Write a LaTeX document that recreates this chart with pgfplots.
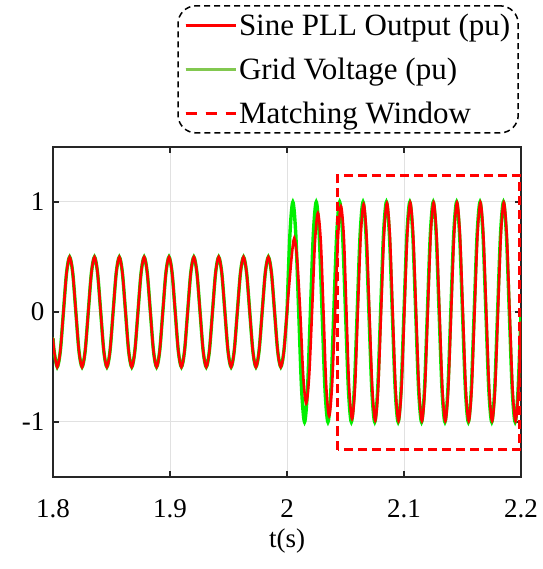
\documentclass[border=0pt]{standalone}
\usepackage{fontspec}
\setmainfont{Liberation Serif}
\usepackage{pgfplots}
\pgfplotsset{compat=1.18}
\usepackage{pgfplotstable}
\definecolor{axgray}{RGB}{38,38,38}
\definecolor{gridgray}{RGB}{225,225,225}
\definecolor{pllred}{RGB}{255,0,0}
\definecolor{gridgreen}{RGB}{0,240,0}
\definecolor{leggreen}{RGB}{130,200,80}

% before the step (shared by both series)
\pgfplotstableread{
t v
1.800000 -0.241
1.800957 -0.354
1.803611 -0.5
1.806265 -0.354
1.808919 0
1.811573 0.354
1.814227 0.5
1.816880 0.354
1.819534 0
1.822188 -0.354
1.824842 -0.5
1.827496 -0.354
1.830150 0
1.832805 0.354
1.835459 0.5
1.838112 0.354
1.840766 0
1.843420 -0.354
1.846074 -0.5
1.848728 -0.354
1.851382 0
1.854036 0.354
1.856690 0.5
1.859343 0.354
1.861997 0
1.864651 -0.354
1.867305 -0.5
1.869959 -0.354
1.872613 0
1.875267 0.354
1.877921 0.5
1.880574 0.354
1.883228 0
1.885882 -0.354
1.888536 -0.5
1.891190 -0.354
1.893844 0
1.896498 0.354
1.899152 0.5
1.901805 0.354
1.904459 0
1.907113 -0.354
1.909767 -0.5
1.912421 -0.354
1.915075 0
1.917729 0.354
1.920383 0.5
1.923036 0.354
1.925690 0
1.928344 -0.354
1.930998 -0.5
1.933652 -0.354
1.936306 0
1.938961 0.354
1.941615 0.5
1.944268 0.354
1.946922 0
1.949576 -0.354
1.952230 -0.5
1.954884 -0.354
1.957538 0
1.960192 0.354
1.962846 0.5
1.965499 0.354
1.968153 0
1.970807 -0.354
1.973461 -0.5
1.976115 -0.354
1.978769 0
1.981423 0.354
1.984077 0.5
1.986730 0.354
1.989384 0
1.992038 -0.354
1.994692 -0.5
1.997346 -0.354
2.000000 0
}\pre

% grid voltage after the step
\pgfplotstableread{
t v
2.0000 0
2.0025 0.707
2.0050 1
2.0075 0.707
2.0100 0
2.0125 -0.707
2.0150 -1
2.0175 -0.707
2.0200 0
2.0225 0.707
2.0250 1
2.0275 0.707
2.0300 0
2.0325 -0.707
2.0350 -1
2.0375 -0.707
2.0400 0
2.0425 0.707
2.0450 1
2.0475 0.707
2.0500 0
2.0525 -0.707
2.0550 -1
2.0575 -0.707
2.0600 0
2.0625 0.707
2.0650 1
2.0675 0.707
2.0700 0
2.0725 -0.707
2.0750 -1
2.0775 -0.707
2.0800 0
2.0825 0.707
2.0850 1
2.0875 0.707
2.0900 0
2.0925 -0.707
2.0950 -1
2.0975 -0.707
2.1000 0
2.1025 0.707
2.1050 1
2.1075 0.707
2.1100 0
2.1125 -0.707
2.1150 -1
2.1175 -0.707
2.1200 0
2.1225 0.707
2.1250 1
2.1275 0.707
2.1300 0
2.1325 -0.707
2.1350 -1
2.1375 -0.707
2.1400 0
2.1425 0.707
2.1450 1
2.1475 0.707
2.1500 0
2.1525 -0.707
2.1550 -1
2.1575 -0.707
2.1600 0
2.1625 0.707
2.1650 1
2.1675 0.707
2.1700 0
2.1725 -0.707
2.1750 -1
2.1775 -0.707
2.1800 0
2.1825 0.707
2.1850 1
2.1875 0.707
2.1900 0
2.1925 -0.707
2.1950 -1
2.1975 -0.707
2.2000 0
}\gpost

% PLL output after the step
\pgfplotstableread{
t v
2.0000 0
2.0037 0.474
2.0062 0.67
2.0087 0.474
2.0113 0
2.0139 -0.587
2.0164 -0.83
2.0189 -0.587
2.0214 0
2.0239 0.636
2.0264 0.90
2.0289 0.636
2.0312 0
2.0335 -0.668
2.0360 -0.945
2.0385 -0.668
2.0411 0
2.0436 0.679
2.0461 0.96
2.0486 0.679
2.0508 0
2.0531 -0.686
2.0556 -0.97
2.0581 -0.686
2.0605 0
2.0630 0.693
2.0655 0.98
2.0680 0.693
2.0704 0
2.0729 -0.696
2.0754 -0.985
2.0779 -0.696
2.0804 0
2.0829 0.700
2.0854 0.99
2.0879 0.700
2.0903 0
2.0928 -0.700
2.0953 -0.99
2.0978 -0.700
2.1003 0
2.1028 0.703
2.1053 0.995
2.1078 0.703
2.1103 0
2.1128 -0.703
2.1153 -0.99
2.1178 -0.703
2.1203 0
2.1228 0.703
2.1253 0.995
2.1278 0.703
2.1303 0
2.1328 -0.703
2.1353 -0.99
2.1378 -0.703
2.1403 0
2.1428 0.703
2.1453 0.995
2.1478 0.703
2.1503 0
2.1528 -0.703
2.1553 -0.99
2.1578 -0.703
2.1603 0
2.1628 0.703
2.1653 0.995
2.1678 0.703
2.1703 0
2.1728 -0.703
2.1753 -0.99
2.1778 -0.703
2.1803 0
2.1828 0.703
2.1853 0.995
2.1878 0.703
2.1903 0
2.1928 -0.703
2.1953 -0.99
2.1978 -0.703
2.2000 -0.094
}\rpost

\begin{document}
\begin{tikzpicture}
\begin{axis}[
  scale only axis, width=468pt, height=330pt,
  xmin=1.8, xmax=2.2, ymin=-1.5, ymax=1.5,
  xtick={1.8,1.9,2,2.1,2.2}, xticklabels={1.8,1.9,2,2.1,2.2},
  ytick={-1,0,1}, yticklabels={-1,0,1},
  tick align=inside, major tick length=6pt,
  tick style={line width=1.5pt, color=axgray},
  axis line style={line width=1.5pt, color=axgray},
  grid=major, major grid style={line width=1pt, color=gridgray},
  ticklabel style={font=\fontsize{27}{30}\selectfont},
  xticklabel style={yshift=-19pt},
  yticklabel style={xshift=-5pt},
  xlabel={t(s)},
  xlabel style={font=\fontsize{27}{30}\selectfont, at={(axis description cs:0.5,0)}, anchor=north, yshift=-48pt},
  legend style={at={(0.9957,1.430)}, anchor=north east, draw=black,
    line width=1.5pt, dash pattern=on 6pt off 4pt, rounded corners=18pt,
    inner xsep=6pt, inner ysep=6pt, row sep=17pt,
    font=\fontsize{31}{35}\selectfont},
  legend cell align=left,
  legend image code/.code={\draw[#1] (0pt,0pt) -- (36pt,0pt); \path (0pt,0pt) -- (50pt,0pt);},
]
\addlegendimage{solid, line width=3pt, color=pllred}
\addlegendentry{Sine PLL Output (pu)}
\addlegendimage{solid, line width=3pt, color=leggreen}
\addlegendentry{Grid Voltage (pu)}
\addlegendimage{line width=3pt, color=pllred, dash pattern=on 11pt off 9pt}
\addlegendentry{Matching Window}

\addplot[forget plot, smooth, line width=3.4pt, color=gridgreen, line cap=round] table[x=t,y=v] {\pre};
\addplot[forget plot, smooth, line width=3.4pt, color=gridgreen, line cap=round] table[x=t,y=v] {\gpost};
\addplot[forget plot, smooth, line width=2.6pt, color=pllred, line cap=round] table[x=t,y=v] {\pre};
\addplot[forget plot, smooth, line width=2.6pt, color=pllred, line cap=round] table[x=t,y=v] {\rpost};
\addplot[forget plot, line width=2.5pt, color=pllred, dash pattern=on 9pt off 5pt] coordinates {
  (2.0433,-1.25) (2.0433,1.24) (2.1986,1.24) (2.1986,-1.25) (2.0433,-1.25)};
\end{axis}
\path (current axis.south west) ++(-53pt,-92pt) rectangle ++(542pt,569pt);
\end{tikzpicture}
\end{document}
